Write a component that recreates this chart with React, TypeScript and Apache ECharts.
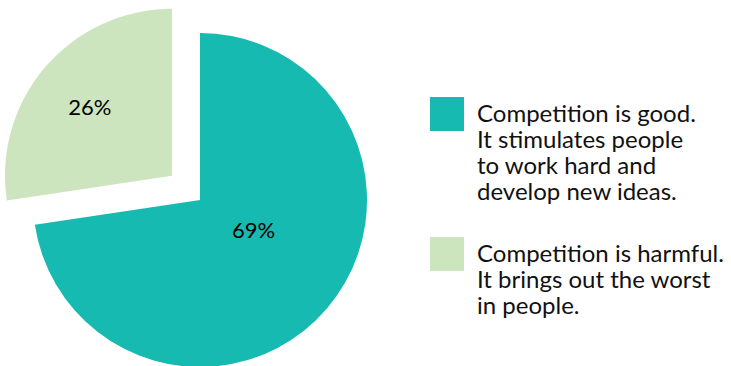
import React, { useEffect, useRef } from "react";
import * as echarts from "echarts";

const categories = [
  "Competition is good.\nIt stimulates people\nto work hard and\ndevelop new ideas.",
  "Competition is harmful.\nIt brings out the worst\nin people.",
];
const values = [69, 26];
const colors = ["#17bab0", "#cde5bf"];
const legendIcons = [
  "path://M0,0M0,6h34v34h-34zM42,120",
  "path://M0,0M0,19h34v34h-34zM42,120",
];
const labelShift = [
  [-12, -27],
  [-16.5, -12.5],
];

export default function App() {
  const ref = useRef<HTMLDivElement>(null);
  useEffect(() => {
    if (!ref.current) return;
    const chart = echarts.init(ref.current, null, { renderer: "svg" });
    chart.setOption({
      animation: false,
      backgroundColor: "#ffffff",
      legend: {
        orient: "vertical",
        left: 430,
        top: 91,
        padding: 0,
        itemWidth: 42,
        itemHeight: 120,
        itemGap: 7,
        selectedMode: false,
        data: categories.map((name, i) => ({ name, icon: legendIcons[i] })),
        itemStyle: { borderWidth: 0 },
        textStyle: {
          fontFamily: "Lato, 'Noto Sans', sans-serif",
          fontSize: 24,
          lineHeight: 26,
          color: "#111111",
        },
      },
      series: [
        {
          type: "pie",
          center: [200, 200],
          radius: [0, 167],
          startAngle: 90,
          clockwise: true,
          silent: true,
          selectedMode: "single",
          selectedOffset: 37,
          itemStyle: { borderWidth: 0 },
          emphasis: { disabled: true },
          label: {
            show: true,
            position: "inside",
            formatter: "{c}%",
            fontFamily: "Lato, sans-serif",
            fontWeight: 400,
            fontSize: 22,
            color: "#000000",
          },
          labelLayout: (params: any) => {
            const s = labelShift[params.dataIndex] || [0, 0];
            return { dx: s[0], dy: s[1] };
          },
          labelLine: { show: false },
          data: categories.map((name, i) => ({
            name,
            value: values[i],
            selected: i === 1,
            itemStyle: { color: colors[i] },
          })),
        },
      ],
    });
    return () => chart.dispose();
  }, []);
  return (
    <div
      ref={ref}
      style={{ position: "absolute", left: 0, top: 0, width: 731, height: 366 }}
    />
  );
}
